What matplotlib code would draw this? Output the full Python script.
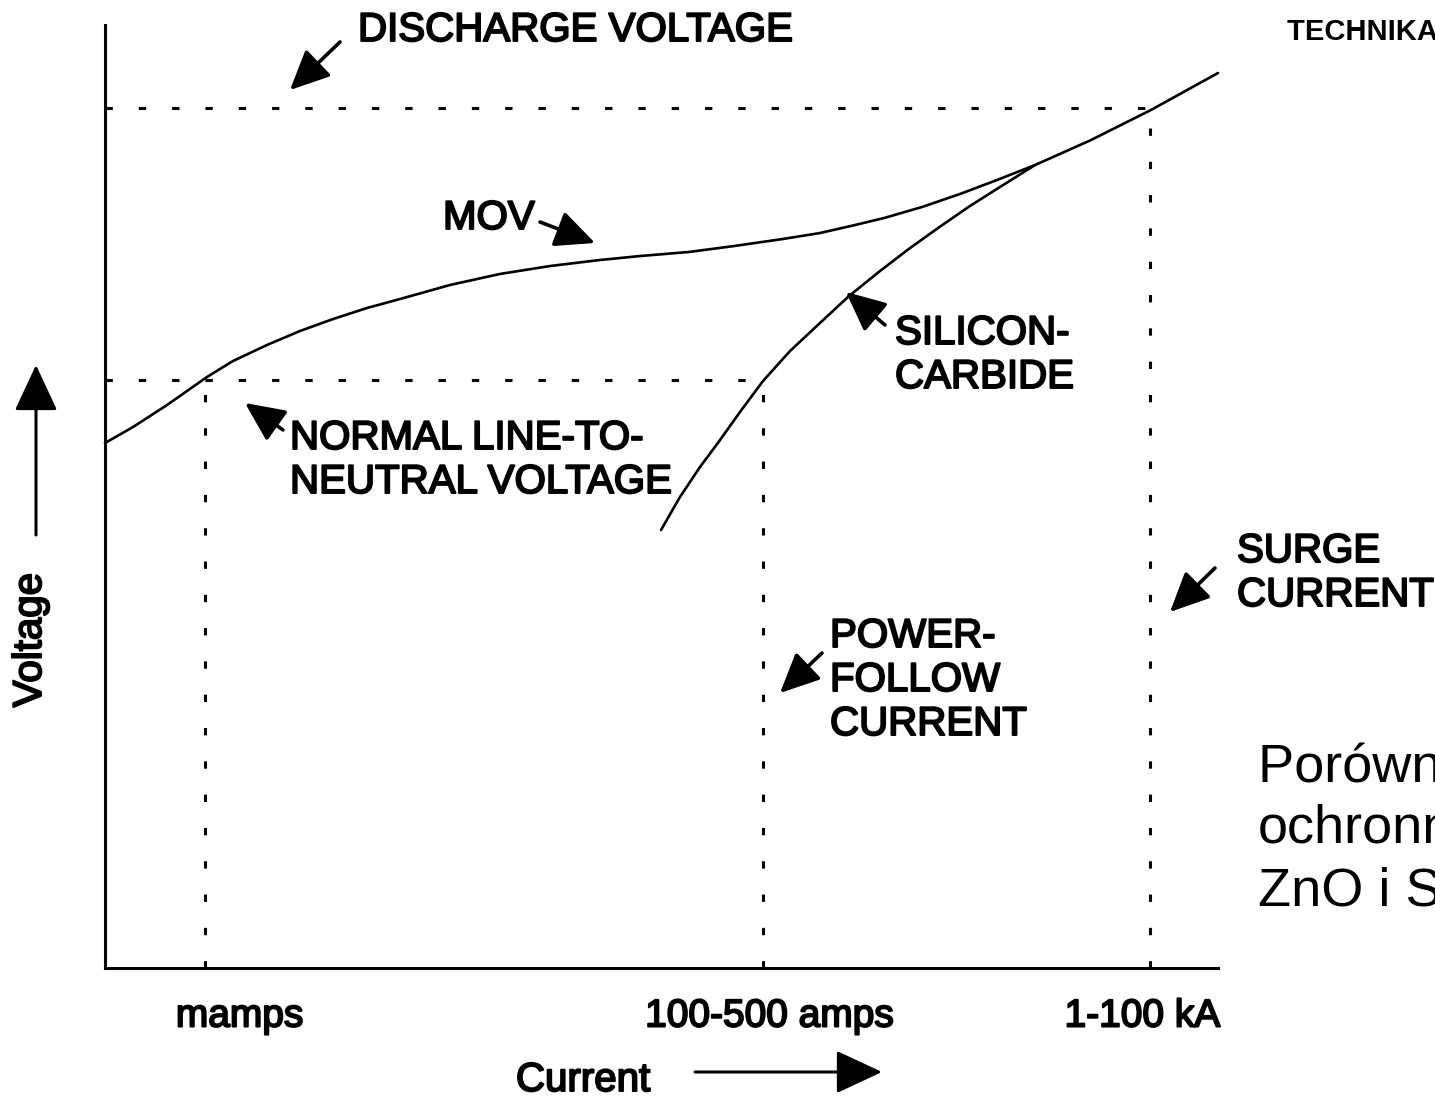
import matplotlib
matplotlib.use("Agg")
import matplotlib.pyplot as plt
import matplotlib.patheffects as pe

# ---------------- data (arbitrary units: x = log-current position 0..100, y = voltage 0..100)
mov_x = [0.0, 2.52, 5.57, 9.16, 11.50, 14.56, 17.52, 20.49, 23.54, 26.50, 31.00, 35.49,
         39.98, 44.47, 48.07, 52.47, 56.51, 60.92, 64.24, 67.03, 69.99, 73.41, 76.82,
         80.14, 83.56, 88.59, 93.98, 100.0]
mov_y = [55.67, 57.37, 59.70, 62.67, 64.37, 66.07, 67.55, 68.82, 69.99, 70.94, 72.43, 73.60,
         74.44, 75.08, 75.50, 75.93, 76.56, 77.31, 77.94, 78.69, 79.53, 80.70, 82.08,
         83.56, 85.15, 87.80, 90.99, 94.91]

sic_x = [49.96, 51.66, 53.46, 55.26, 57.05, 59.12, 61.55, 64.24, 66.85, 69.63, 72.33,
         75.11, 77.72, 80.41, 83.56]
sic_y = [46.45, 49.95, 53.13, 55.99, 58.96, 62.25, 65.43, 68.40, 71.26, 73.91, 76.35,
         78.69, 80.81, 82.82, 85.15]

discharge_voltage = 91.2
normal_voltage = 62.4
mamps_x = 9.0
power_follow_x = 59.1
surge_x = 93.9

tick_labels = ["mamps", "100-500 amps", "1-100 kA"]
tick_pos = [12.1, 59.7, 93.2]

# ---------------- figure
W, H = 1435, 1101
fig = plt.figure(figsize=(W / 100, H / 100), dpi=100)
fig.patch.set_facecolor("white")

ax_l, ax_r, ax_b, ax_t = 105, 1218, 968, 25
ax = fig.add_axes([ax_l / W, (H - ax_b) / H, (ax_r - ax_l) / W, (ax_b - ax_t) / H])
ax.set_xlim(0, 100)
ax.set_ylim(0, 100)
for s in ["top", "right"]:
    ax.spines[s].set_visible(False)
for s in ["left", "bottom"]:
    ax.spines[s].set_linewidth(2.2)
ax.set_yticks([])
ax.set_xticks(tick_pos)
ax.tick_params(axis="x", length=0, pad=22)
thick = [pe.withStroke(linewidth=1.4, foreground="black")]
ax.set_xticklabels(tick_labels, fontsize=28, family="Liberation Sans")
for t in ax.get_xticklabels():
    t.set_path_effects(thick)

# dotted guides
dot = dict(color="black", lw=2.2, linestyle=(0, (2.4, 8.5)))
ax.plot([0, surge_x], [discharge_voltage, discharge_voltage], **dot)
ax.plot([0, power_follow_x], [normal_voltage, normal_voltage], **dot)
ax.plot([mamps_x, mamps_x], [0, normal_voltage], **dot)
ax.plot([power_follow_x, power_follow_x], [0, normal_voltage], **dot)
ax.plot([surge_x, surge_x], [0, discharge_voltage], **dot)

# curves
ax.plot(mov_x, mov_y, color="black", lw=1.9, solid_capstyle="round",
        solid_joinstyle="round", clip_on=False)
ax.plot(sic_x, sic_y, color="black", lw=1.9, solid_capstyle="round",
        solid_joinstyle="round", clip_on=False)


def fp(x, y):
    return (x, H - y)


def label(x, y, s, size=29, va="center"):
    fig.text(x / W, (H - y) / H, s, fontsize=size, family="Liberation Sans",
             ha="left", va=va, linespacing=1.2, path_effects=thick)


def arrow(tail, head, scale=27, lw=2.6):
    ax.annotate("", xy=fp(*head), xytext=fp(*tail), xycoords="figure pixels",
                textcoords="figure pixels",
                arrowprops=dict(arrowstyle="-|>,head_length=0.9,head_width=0.42",
                                lw=lw, color="black", mutation_scale=scale,
                                shrinkA=0, shrinkB=0),
                annotation_clip=False)


label(358, 30, "DISCHARGE VOLTAGE")
arrow((340, 42), (290, 90))
label(443, 218, "MOV")
arrow((540, 222), (595, 243))
label(895, 355, "SILICON-\nCARBIDE")
arrow((885, 325), (846, 292))
label(290, 460, "NORMAL LINE-TO-\nNEUTRAL VOLTAGE")
arrow((283, 430), (245, 403))
label(1237, 573, "SURGE\nCURRENT")
arrow((1215, 568), (1170, 612))
label(830, 680, "POWER-\nFOLLOW\nCURRENT")
arrow((822, 653), (780, 693))

# axis titles with arrows
fig.text(30 / W, (H - 640) / H, "Voltage", fontsize=29, family="Liberation Sans",
         rotation=90, ha="center", va="center", path_effects=thick)
arrow((36, 535), (36, 365), scale=32, lw=2.2)
fig.text(583 / W, (H - 1080) / H, "Current", fontsize=29, family="Liberation Sans",
         ha="center", va="center", path_effects=thick)
arrow((695, 1072), (882, 1072), scale=32, lw=2.2)

# slide texts (cut at the right edge, as in the source slide)
fig.text(1287 / W, (H - 30) / H, "TECHNIKA WYSOKICH NAPIĘĆ", fontsize=21,
         family="Liberation Sans", fontweight="bold", ha="left", va="center")
slide_lines = ["Porównanie charakterystyk", "ochronników", "ZnO i SiC"]
for i, line in enumerate(slide_lines):
    fig.text(1258 / W, (H - (782 + 62 * i)) / H, line, fontsize=39,
             family="Liberation Sans", ha="left", va="baseline")

fig.savefig("out.png", dpi=100, facecolor="white")
